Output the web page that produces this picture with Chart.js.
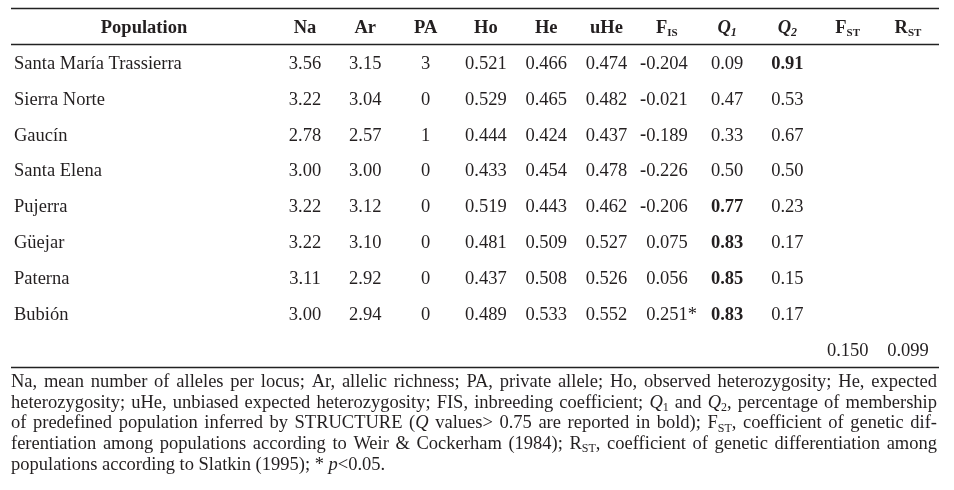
<!DOCTYPE html>
<html><head><meta charset="utf-8">
<script src="https://cdn.jsdelivr.net/npm/chart.js@4.4.0/dist/chart.umd.min.js"></script>
<style>html,body{margin:0;padding:0;background:#fff}canvas{display:block}</style>
</head><body>
<canvas id="c" width="954" height="490"></canvas>
<script>
// ---------- data ----------
const populations = ['Santa María Trassierra','Sierra Norte','Gaucín','Santa Elena','Pujerra','Güejar','Paterna','Bubión'];
const columns = ['Na','Ar','PA','Ho','He','uHe','FIS','Q1','Q2','FST','RST'];
const Na  = [3.56,3.22,2.78,3.00,3.22,3.22,3.11,3.00];
const Ar  = [3.15,3.04,2.57,3.00,3.12,3.10,2.92,2.94];
const PA  = [3,0,1,0,0,0,0,0];
const Ho  = [0.521,0.529,0.444,0.433,0.519,0.481,0.437,0.489];
const He  = [0.466,0.465,0.424,0.454,0.443,0.509,0.508,0.533];
const uHe = [0.474,0.482,0.437,0.478,0.462,0.527,0.526,0.552];
const FIS = [-0.204,-0.021,-0.189,-0.226,-0.206,0.075,0.056,0.251];
const FISsig = [false,false,false,false,false,false,false,true];
const Q1  = [0.09,0.47,0.33,0.50,0.77,0.83,0.85,0.83];
const Q2  = [0.91,0.53,0.67,0.50,0.23,0.17,0.15,0.17];
const FST = [0.150];
const RST = [0.099];
const qBoldThreshold = 0.75;

const columnValues = {Na, Ar, PA, Ho, He, uHe, FIS, Q1, Q2};
const decimals = {Na:2, Ar:2, PA:0, Ho:3, He:3, uHe:3, FIS:3, Q1:2, Q2:2, FST:3, RST:3};

// header rich-text labels
const headerLabels = {
  Na:[['Na','b']], Ar:[['Ar','b']], PA:[['PA','b']], Ho:[['Ho','b']], He:[['He','b']], uHe:[['uHe','b']],
  FIS:[['F','b'],['IS','bsub']], Q1:[['Q','bi'],['1','bisub']], Q2:[['Q','bi'],['2','bisub']],
  FST:[['F','b'],['ST','bsub']], RST:[['R','b'],['ST','bsub']]
};
const footnote = [
  [['Na, mean number of alleles per locus; Ar, allelic richness; PA, private allele; Ho, observed heterozygosity; He, expected','n']],
  [['heterozygosity; uHe, unbiased expected heterozygosity; FIS, inbreeding coefficient; ','n'],['Q','i'],['1','sub'],[' and ','n'],['Q','i'],['2','sub'],[', percentage of membership','n']],
  [['of predefined population inferred by STRUCTURE (','n'],['Q','i'],[' values> 0.75 are reported in bold); F','n'],['ST','sub'],[', coefficient of genetic dif-','n']],
  [['ferentiation among populations according to Weir & Cockerham (1984); R','n'],['ST','sub'],[', coefficient of genetic differentiation among','n']],
  [['populations according to Slatkin (1995); * ','n'],['p','i'],['<0.05.','n']]
];

// ---------- styles ----------
const FAM = "'Liberation Serif','Times New Roman',serif";
const FS = 18.5;
const INK = '#231f20';
const styles = {
  n:{font:`${FS}px ${FAM}`, dy:0},
  i:{font:`italic ${FS}px ${FAM}`, dy:0},
  b:{font:`bold ${FS}px ${FAM}`, dy:0},
  bi:{font:`bold italic ${FS}px ${FAM}`, dy:0},
  sub:{font:`12px ${FAM}`, dy:5},
  bsub:{font:`bold 11px ${FAM}`, dy:5},
  bisub:{font:`bold italic 12px ${FAM}`, dy:5}
};

function tokens(ctx, segs){
  const out = [];
  segs.forEach(([text, st]) => {
    text.split(/( )/).forEach(t => {
      if (t === '') return;
      ctx.font = styles[st].font;
      out.push({t, st, space: t === ' ', w: ctx.measureText(t).width});
    });
  });
  return out;
}
function richWidth(ctx, segs){ return tokens(ctx, segs).reduce((a, k) => a + k.w, 0); }
function drawRich(ctx, segs, x, y, justifyWidth){
  const tk = tokens(ctx, segs);
  const nat = tk.reduce((a, k) => a + k.w, 0);
  const nsp = tk.filter(k => k.space).length;
  const extra = (justifyWidth && nsp) ? (justifyWidth - nat) / nsp : 0;
  let cx = x;
  tk.forEach(k => {
    if (k.space) { cx += k.w + extra; return; }
    ctx.font = styles[k.st].font;
    ctx.fillText(k.t, cx, y + styles[k.st].dy);
    cx += k.w;
  });
}

// ---------- layout ----------
const tableLeft = 11, tableRight = 939;
const popTextX = 14, popHeaderX = 144;

const tablePlugin = {
  id: 'tablePlugin',
  afterDatasetsDraw(chart){
    const ctx = chart.ctx;
    const xs = chart.scales.x, ys = chart.scales.y;
    ctx.save();
    ctx.fillStyle = INK;
    ctx.strokeStyle = '#222';
    ctx.textBaseline = 'middle';
    ctx.textAlign = 'left';
    const yHead = ys.getPixelForValue(-1);
    const yLast = ys.getPixelForValue(populations.length);
    // rules
    ctx.lineWidth = 1.3;
    [yHead - 20, yHead + 16, yLast + 16].forEach(yy => {
      ctx.beginPath(); ctx.moveTo(tableLeft, Math.round(yy) + 0.5); ctx.lineTo(tableRight, Math.round(yy) + 0.5); ctx.stroke();
    });
    // header
    const popSeg = [['Population','b']];
    drawRich(ctx, popSeg, popHeaderX - richWidth(ctx, popSeg) / 2, yHead);
    columns.forEach((c, i) => {
      const segs = headerLabels[c];
      const w = richWidth(ctx, segs);
      drawRich(ctx, segs, xs.getPixelForValue(i) - w / 2, yHead);
    });
    // population names
    ctx.font = styles.n.font;
    populations.forEach((p, r) => ctx.fillText(p, popTextX, ys.getPixelForValue(r)));
    // cells from dataset point positions
    chart.data.datasets.forEach((ds, di) => {
      const meta = chart.getDatasetMeta(di);
      const col = ds.label;
      meta.data.forEach((pt, k) => {
        const raw = ds.data[k];
        const v = raw.v;
        let txt = Math.abs(v).toFixed(decimals[col]);
        if (col === 'FIS') {
          ctx.font = styles.n.font;
          const w = ctx.measureText(txt).width;
          const right = pt.x + 21;
          ctx.fillText(txt, right - w, pt.y);
          if (v < 0) {
            ctx.font = styles.b.font;
            const mw = ctx.measureText('-').width;
            ctx.fillText('-', right - w - mw, pt.y);
          }
          if (raw.sig) { ctx.font = styles.n.font; ctx.fillText('*', right, pt.y); }
          return;
        }
        if (v < 0) txt = '-' + txt;
        const bold = (col === 'Q1' || col === 'Q2') && v > qBoldThreshold;
        ctx.font = bold ? styles.b.font : styles.n.font;
        const w = ctx.measureText(txt).width;
        ctx.fillText(txt, pt.x - w / 2, pt.y);
      });
    });
    // footnote
    const fx = tableLeft, fw = 937 - tableLeft;
    footnote.forEach((line, li) => {
      const yy = yLast + 31 + li * 20.7;
      drawRich(ctx, line, fx, yy, li < footnote.length - 1 ? fw : 0);
    });
    ctx.restore();
  }
};

const datasets = Object.keys(columnValues).map(col => ({
  label: col,
  data: columnValues[col].map((v, r) => ({x: col, y: r, v, sig: col === 'FIS' ? FISsig[r] : false})),
  pointRadius: 0, pointHoverRadius: 0, showLine: false
}));
datasets.push({label:'FST', data: FST.map(v => ({x:'FST', y: populations.length, v})), pointRadius:0, pointHoverRadius:0});
datasets.push({label:'RST', data: RST.map(v => ({x:'RST', y: populations.length, v})), pointRadius:0, pointHoverRadius:0});

new Chart(document.getElementById('c'), {
  type: 'scatter',
  data: { datasets },
  options: {
    responsive: false,
    animation: false,
    events: [],
    layout: { padding: { left: 305, right: 46, top: 28, bottom: 139 } },
    plugins: { legend: { display: false }, tooltip: { enabled: false } },
    scales: {
      x: { type: 'category', labels: columns, offset: false, display: false },
      y: { type: 'linear', min: -1, max: populations.length, reverse: true, display: false }
    }
  },
  plugins: [tablePlugin]
});
</script>
</body></html>
